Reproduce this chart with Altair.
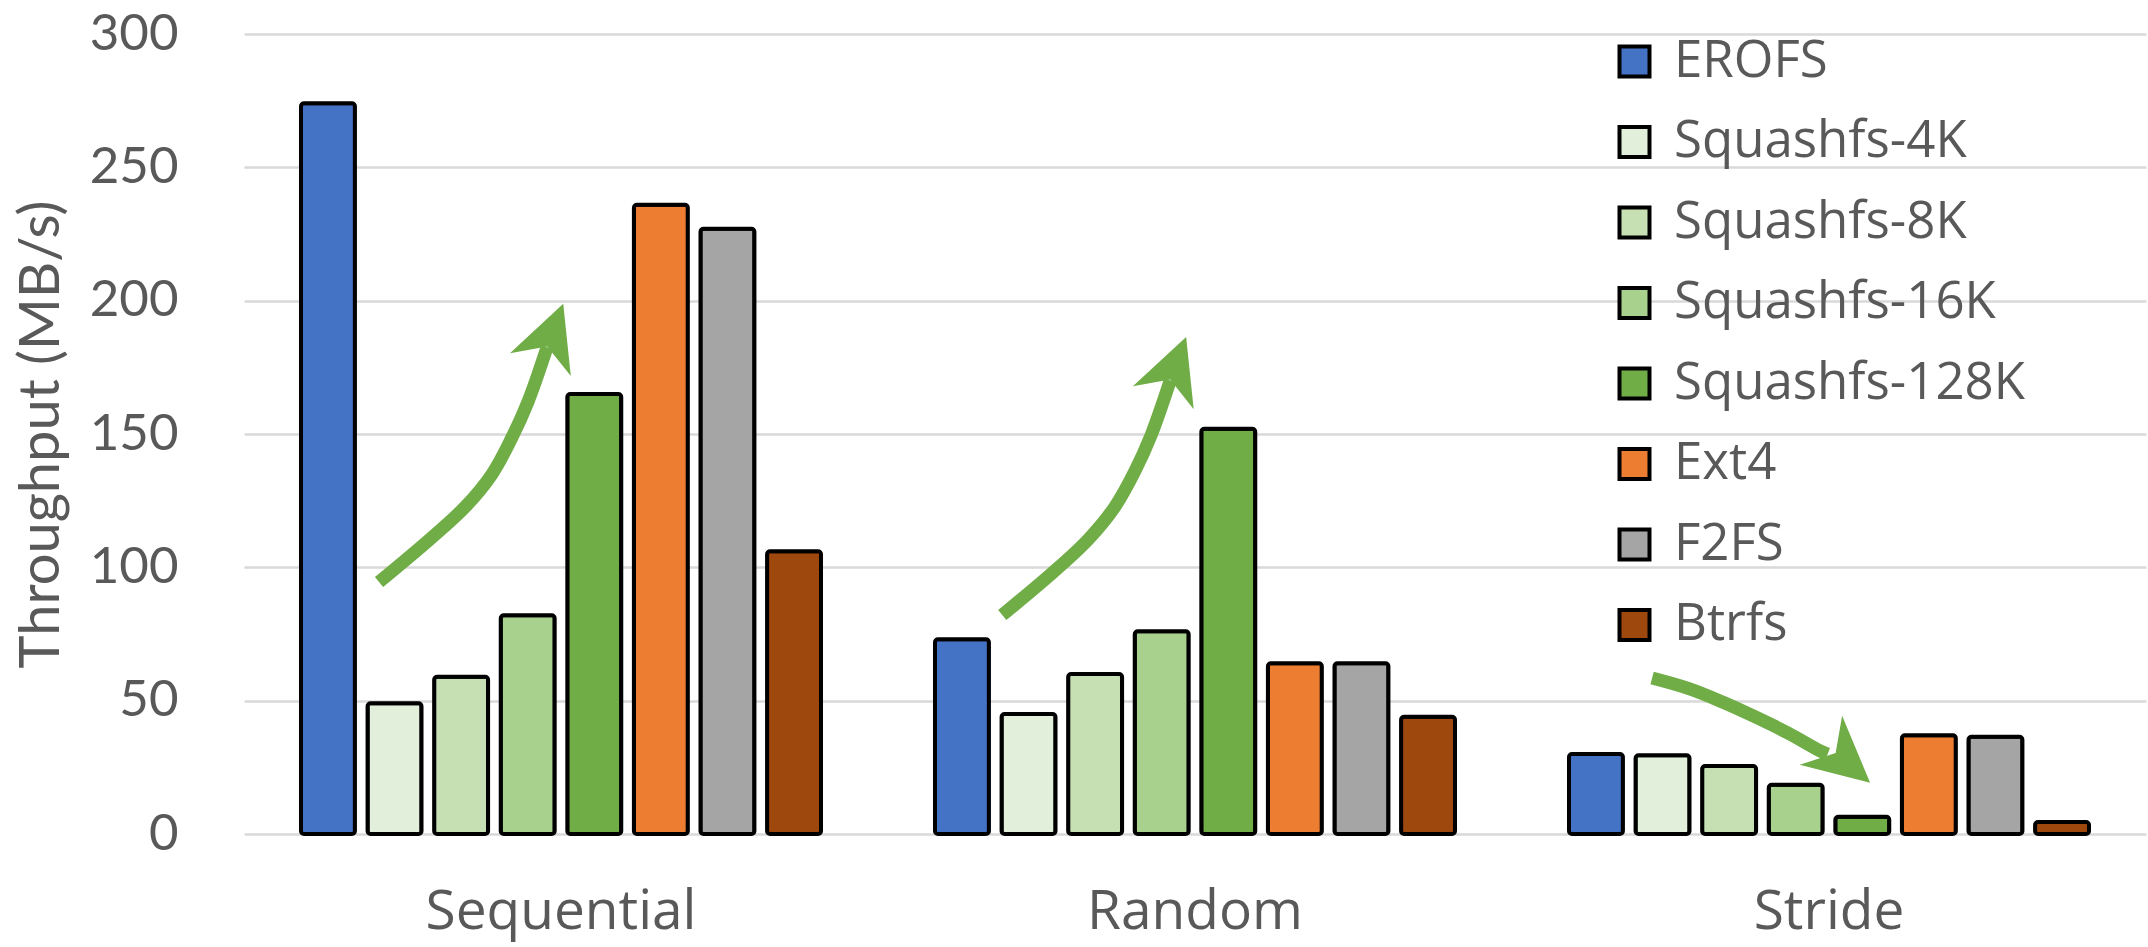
import altair as alt
import pandas as pd

# Workload categories and file systems (series order as in the legend)
categories = ["Sequential", "Random", "Stride"]
series = ["EROFS", "Squashfs-4K", "Squashfs-8K", "Squashfs-16K",
          "Squashfs-128K", "Ext4", "F2FS", "Btrfs"]
colors = ["#4472C4", "#E2EFDA", "#C6E0B4", "#A9D18E",
          "#70AD47", "#ED7D31", "#A5A5A5", "#9E480E"]

# Throughput (MB/s) per file system
sequential = [274, 49, 59, 82, 165, 236, 227, 106]
random_rw = [73, 45, 60, 76, 152, 64, 64, 44]
stride = [30, 29.5, 25.5, 18.5, 6.5, 37, 36.5, 4.5]

# Trend arrows: shaft points in (category position, MB/s) units
arrow_id = [1, 1, 1, 1, 1, 1, 1,
            2, 2, 2, 2, 2, 2, 2,
            3, 3, 3, 3, 3, 3, 3]
arrow_u = [0.213, 0.293, 0.349, 0.391, 0.422, 0.448, 0.478,
           1.196, 1.276, 1.331, 1.373, 1.405, 1.431, 1.461,
           2.221, 2.278, 2.331, 2.383, 2.436, 2.486, 2.498]
arrow_v = [94.5, 110.5, 122.7, 134.9, 148.4, 162.1, 182.5,
           82.1, 98.1, 110.3, 122.5, 136.0, 149.7, 170.1,
           58.5, 54.6, 49.6, 44.0, 37.8, 31.2, 30.0]
# Arrow heads: centre position and heading (degrees clockwise from up)
head_u = [0.4855, 1.468, 2.526]
head_v = [187.4, 175.0, 27.2]
head_angle = [20.6, 20.6, 130.8]

LABEL_FONT = "Open Sans"
TICK_FONT = "Lato"
GREY = "#595959"
GREEN = "#70AD47"

rows = []
for cat, vals in zip(categories, [sequential, random_rw, stride]):
    for s, v in zip(series, vals):
        rows.append({"workload": cat, "fs": s, "throughput": v})
bars_df = pd.DataFrame(rows)

arrows_df = pd.DataFrame({
    "arrow": arrow_id,
    "u": arrow_u,
    "v": arrow_v,
    "step": list(range(len(arrow_id))),
})
heads_df = pd.DataFrame({"u": head_u, "v": head_v, "angle": head_angle})

y_scale = alt.Scale(domain=[0, 300], nice=False, zero=True)

bars = alt.Chart(bars_df).mark_bar(
    stroke="black", strokeWidth=4, cornerRadius=3
).encode(
    x=alt.X("workload:N", sort=categories,
            scale=alt.Scale(paddingInner=0, paddingOuter=0),
            axis=alt.Axis(title=None, domain=False, ticks=False, grid=False,
                          labelAngle=0, labelLimit=0,
                          labelFontSize=55, labelColor=GREY,
                          labelFont=LABEL_FONT, labelPadding=51)),
    xOffset=alt.XOffset("fs:N", sort=series,
                        scale=alt.Scale(paddingInner=0.19, paddingOuter=0.856)),
    y=alt.Y("throughput:Q", scale=y_scale,
            axis=alt.Axis(values=[0, 50, 100, 150, 200, 250, 300],
                          domain=False, ticks=False,
                          labelFontSize=51, labelColor=GREY,
                          labelFont=TICK_FONT, labelPadding=66,
                          gridColor="#D9D9D9", gridWidth=2.5,
                          title="Throughput (MB/s)", titleFontSize=56,
                          titleFontWeight="normal", titleColor=GREY,
                          titleFont=TICK_FONT, titleAngle=270,
                          titleX=-203, titleY=400,
                          titleAlign="center", titleBaseline="middle")),
    color=alt.Color("fs:N", sort=series,
                    scale=alt.Scale(domain=series, range=colors),
                    legend=alt.Legend(title=None, orient="none",
                                      legendX=1365, legendY=2,
                                      padding=0, symbolType="square",
                                      symbolSize=900, symbolStrokeColor="black",
                                      symbolStrokeWidth=4, symbolOffset=0,
                                      labelFontSize=51, labelColor=GREY,
                                      labelFont=LABEL_FONT, labelOffset=14,
                                      labelLimit=0, rowPadding=28.5)),
)

x_overlay = alt.X("u:Q", scale=alt.Scale(domain=[0, 3], nice=False, zero=False),
                  axis=None)
y_overlay = alt.Y("v:Q", scale=y_scale)

shafts = alt.Chart(arrows_df).mark_line(
    color=GREEN, strokeWidth=13, strokeCap="butt", interpolate="catmull-rom"
).encode(
    x=x_overlay,
    y=y_overlay,
    detail="arrow:N",
    order="step:Q",
)

heads = alt.Chart(heads_df).mark_point(
    shape="M0,-1L1,1L0,0.4L-1,1Z", filled=True, fill=GREEN,
    color=GREEN, strokeWidth=0, opacity=1, size=4225
).encode(
    x=x_overlay,
    y=y_overlay,
    angle=alt.Angle("angle:Q", scale=None),
)

chart = alt.layer(bars, shafts, heads).resolve_scale(
    x="independent"
).properties(
    width=1902, height=800,
    autosize=alt.AutoSizeParams(type="none"),
    padding={"left": 244, "top": 34, "right": 2, "bottom": 113},
).configure(
    font=LABEL_FONT
).configure_view(
    strokeWidth=0, stroke="transparent"
).configure_axis(domain=False)

chart.save("out.html", embed_options={"renderer": "svg", "actions": False})
